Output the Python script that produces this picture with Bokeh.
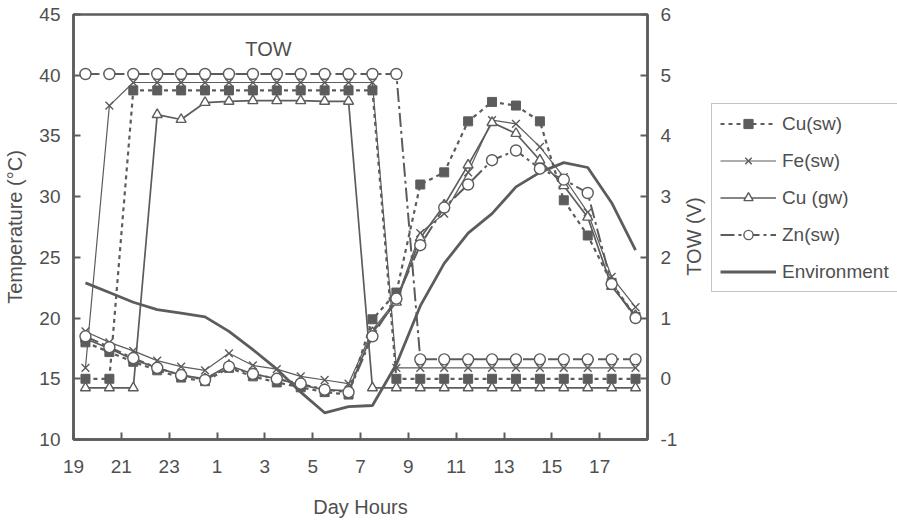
import math
from bokeh.plotting import figure
from bokeh.layouts import row
from bokeh.models import Range1d, LinearAxis, FixedTicker, Legend, LegendItem, Label
from bokeh.embed import file_html
from bokeh.resources import INLINE

# measurement times (hours; values above 24 belong to the next day)
time_h = [19.5, 20.5, 21.5, 22.5, 23.5, 24.5, 25.5, 26.5, 27.5, 28.5, 29.5, 30.5,
          31.5, 32.5, 33.5, 34.5, 35.5, 36.5, 37.5, 38.5, 39.5, 40.5, 41.5, 42.5]
tick_pos = [19, 21, 23, 25, 27, 29, 31, 33, 35, 37, 39, 41, 43]
tick_labels = ["19", "21", "23", "1", "3", "5", "7", "9", "11", "13", "15", "17", ""]
temp_ticks = [10, 15, 20, 25, 30, 35, 40, 45]
tow_ticks = [-1, 0, 1, 2, 3, 4, 5, 6]
tow_labels = ["-1", "0", "1", "2", "3", "4", "5", "6"]

# temperatures (°C)
cu_sw_temp = [18.0, 17.2, 16.4, 15.7, 15.1, 14.8, 15.9, 15.2, 14.7, 14.3, 13.9, 13.7,
              19.9, 22.1, 31.0, 32.0, 36.2, 37.8, 37.5, 36.2, 29.7, 26.8, 22.9, 20.1]
fe_sw_temp = [18.9, 18.0, 17.3, 16.5, 16.0, 15.7, 17.1, 16.1, 15.8, 15.2, 14.9, 14.6,
              19.0, 21.5, 27.0, 28.6, 32.0, 36.3, 36.0, 34.1, 31.6, 28.7, 23.4, 20.9]
cu_gw_temp = [18.3, 17.5, 16.6, 15.9, 15.3, 15.0, 16.1, 15.4, 15.0, 14.5, 14.1, 14.0,
              18.8, 21.3, 26.6, 29.3, 32.6, 36.1, 35.2, 33.0, 30.9, 28.3, 22.6, 20.2]
zn_sw_temp = [18.5, 17.6, 16.7, 15.9, 15.3, 14.9, 16.0, 15.4, 15.0, 14.6, 14.1, 13.9,
              18.5, 21.6, 26.0, 29.1, 31.0, 33.0, 33.8, 32.3, 31.4, 30.3, 22.8, 20.0]
env_temp = [22.9, 22.1, 21.3, 20.7, 20.4, 20.1, 18.9, 17.4, 15.8, 13.9, 12.2, 12.7,
            12.8, 16.2, 21.0, 24.5, 27.0, 28.6, 30.8, 32.0, 32.8, 32.4, 29.5, 25.6]

# time of wetness (V)
cu_sw_tow = [0.0, 0.0, 4.75, 4.75, 4.75, 4.75, 4.75, 4.75, 4.75, 4.75, 4.75, 4.75,
             4.75, 0.0, 0.0, 0.0, 0.0, 0.0, 0.0, 0.0, 0.0, 0.0, 0.0, 0.0]
fe_sw_tow = [0.18, 4.5, 4.88, 4.88, 4.88, 4.88, 4.88, 4.88, 4.88, 4.88, 4.88, 4.88,
             4.88, 0.18, 0.18, 0.18, 0.18, 0.18, 0.18, 0.18, 0.18, 0.18, 0.18, 0.18]
cu_gw_tow = [-0.15, -0.15, -0.15, 4.35, 4.27, 4.55, 4.57, 4.58, 4.58, 4.58, 4.57, 4.57,
             -0.15, -0.15, -0.15, -0.15, -0.15, -0.15, -0.15, -0.15, -0.15, -0.15, -0.15, -0.15]
zn_sw_tow = [5.02, 5.02, 5.02, 5.02, 5.02, 5.02, 5.02, 5.02, 5.02, 5.02, 5.02, 5.02,
             5.02, 5.02, 0.32, 0.32, 0.32, 0.32, 0.32, 0.32, 0.32, 0.32, 0.32, 0.32]

series_names = ["Cu(sw)", "Fe(sw)", "Cu (gw)", "Zn(sw)", "Environment"]

GRAY = "#5c5c5c"
TXT = "#4f4f4f"
FONT = "Liberation Sans"

LINE_STYLE = {
    "Cu(sw)": dict(line_width=2.2, line_dash="4 4", color=GRAY),
    "Fe(sw)": dict(line_width=1.2, color=GRAY),
    "Cu (gw)": dict(line_width=1.7, color=GRAY),
    "Zn(sw)": dict(line_width=2.0, line_dash="14 4 3 4", color=GRAY),
    "Environment": dict(line_width=2.8, color=GRAY),
}
MARK_STYLE = {
    "Cu(sw)": dict(marker="square", size=9, fill_color=GRAY, line_color=GRAY),
    "Fe(sw)": dict(marker="x", size=11, line_color=GRAY, line_width=1.4),
    "Cu (gw)": dict(marker="triangle", size=10, fill_color="white", line_color=GRAY, line_width=1.4),
    "Zn(sw)": dict(marker="circle", size=11, fill_color="white", line_color=GRAY, line_width=1.4),
}

p = figure(width=681, height=520, output_backend="svg", toolbar_location=None,
           x_range=Range1d(19, 43), y_range=Range1d(10, 45),
           min_border_left=73, min_border_right=34, min_border_top=14, min_border_bottom=80)
p.extra_y_ranges = {"tow": Range1d(-1, 6)}
p.grid.visible = False
p.outline_line_color = GRAY
p.outline_line_width = 2.5
p.background_fill_color = "white"
p.border_fill_color = "white"


def style_axis(ax):
    ax.axis_line_color = GRAY
    ax.axis_line_width = 2.5
    ax.major_tick_line_color = GRAY
    ax.major_tick_line_width = 2
    ax.major_tick_in = 7
    ax.major_tick_out = 0
    ax.minor_tick_line_color = None
    ax.major_label_text_font = FONT
    ax.major_label_text_font_size = "19px"
    ax.major_label_text_color = TXT
    ax.axis_label_text_font = FONT
    ax.axis_label_text_font_size = "20px"
    ax.axis_label_text_color = TXT
    ax.axis_label_text_font_style = "normal"


xa = p.xaxis[0]
xa.ticker = FixedTicker(ticks=tick_pos)
xa.major_label_overrides = {t: s for t, s in zip(tick_pos, tick_labels)}
xa.axis_label = "Day Hours"
style_axis(xa)
xa.major_label_standoff = 20
xa.axis_label_standoff = 20

ya = p.yaxis[0]
ya.ticker = FixedTicker(ticks=temp_ticks)
ya.axis_label = "Temperature (°C)"
style_axis(ya)
ya.major_label_standoff = 13
ya.axis_label_standoff = 10

yr = LinearAxis(y_range_name="tow", ticker=FixedTicker(ticks=tow_ticks))
yr.major_label_overrides = {t: s for t, s in zip(tow_ticks, tow_labels)}
style_axis(yr)
yr.major_label_standoff = 13
p.add_layout(yr, "right")

# environment
p.line(time_h, env_temp, **LINE_STYLE["Environment"])

temps = {"Cu(sw)": cu_sw_temp, "Fe(sw)": fe_sw_temp, "Cu (gw)": cu_gw_temp,
         "Zn(sw)": zn_sw_temp, "Environment": env_temp}
tows = {"Cu(sw)": cu_sw_tow, "Fe(sw)": fe_sw_tow, "Cu (gw)": cu_gw_tow, "Zn(sw)": zn_sw_tow}

for name in series_names[:4]:
    p.line(time_h, temps[name], **LINE_STYLE[name])
    p.line(time_h, tows[name], y_range_name="tow", **LINE_STYLE[name])
for name in series_names[:4]:
    p.scatter(time_h, temps[name], **MARK_STYLE[name])
    p.scatter(time_h, tows[name], y_range_name="tow", **MARK_STYLE[name])

p.add_layout(Label(x=27.15, y=42.2, text="TOW", text_align="center", text_baseline="middle",
                   text_font=FONT, text_font_size="20px", text_color=TXT))

# side panel (separate figure to the right of the chart) holding the right
# axis title and the legend; its renderers use the same data but lie outside
# its visible range, so only the legend glyphs show
lg = figure(width=216, height=520, output_backend="svg", toolbar_location=None,
            x_range=Range1d(0, 1), y_range=Range1d(0, 1),
            min_border_left=0, min_border_right=0, min_border_top=0, min_border_bottom=0)
lg.axis.visible = False
lg.grid.visible = False
lg.outline_line_color = None
lg.background_fill_color = "white"
lg.border_fill_color = "white"

lg.add_layout(Label(x=12, y=203, x_units="screen", y_units="screen", angle=math.pi / 2,
                    text="TOW (V)", text_align="center", text_baseline="middle",
                    text_font=FONT, text_font_size="20px", text_color=TXT))

items = []
for name in series_names:
    rs = [lg.line(time_h, temps[name], **LINE_STYLE[name])]
    if name in MARK_STYLE:
        rs.append(lg.scatter(time_h, temps[name], **MARK_STYLE[name]))
    items.append(LegendItem(label=name, renderers=rs))

legend = Legend(items=items, location=(30, 147))
legend.margin = 0
legend.padding = 8
legend.spacing = 14
legend.glyph_width = 56
legend.glyph_height = 23
legend.label_height = 23
legend.label_standoff = 6
legend.label_text_font = FONT
legend.label_text_font_size = "19px"
legend.label_text_color = TXT
legend.border_line_color = "#8a8a8a"
legend.border_line_width = 1
legend.background_fill_alpha = 1
lg.add_layout(legend)

open("out.html", "w").write(file_html(row(p, lg), INLINE))
